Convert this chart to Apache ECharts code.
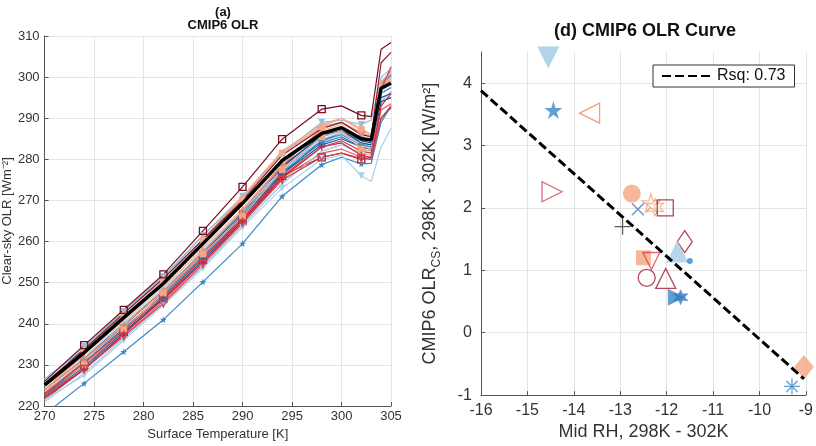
<!DOCTYPE html>
<html>
<head>
<meta charset="utf-8">
<script src="https://cdn.jsdelivr.net/npm/echarts@6/dist/echarts.min.js"></script>
<style>
  html, body {margin: 0; padding: 0; background: #fff;}
  #chart {width: 816px; height: 446px;}
</style>
</head>
<body>
<div id="chart"></div>
<script>
  // panel (a): clear-sky OLR vs surface temperature, one list per model
  const surfaceTemp = [270, 274, 278, 282, 286, 290, 294, 298, 300, 302, 303, 304, 305];
  const markerTemps = [274, 278, 282, 286, 290, 294, 298, 302];
  const multiModelMean = [225.1, 233, 241.5, 249.8, 259.5, 269.3, 279.7, 286.3, 287.7, 285, 284.7, 297.3, 298.5];
  const olrM01 = [226, 234.8, 243.4, 252, 262.6, 273.3, 284.9, 292.2, 293, 290.7, 290.4, 306.8, 308.4];
  const olrM02 = [225.5, 233.8, 242.5, 251, 260.5, 270, 281, 287.5, 289, 286, 285.5, 303.5, 306];
  const olrM03 = [223, 230.5, 238.5, 246.5, 256, 265.5, 276, 283, 284.5, 282, 281.5, 297, 302.5];
  const olrM04 = [222.5, 229, 237, 245, 254.5, 264.5, 275, 280.5, 281.5, 280.2, 280, 290, 293];
  const olrM05 = [222, 228.8, 237.5, 246, 255, 265, 275.5, 283, 284, 281, 280.5, 293, 296];
  const olrM06 = [224, 232.5, 241, 249.5, 260.5, 271, 282, 288.5, 290, 287, 286, 299, 301];
  const olrM07 = [223.5, 230, 238.5, 247.5, 257, 266, 277.5, 285.5, 287, 282.5, 282, 297, 299.5];
  const olrM08 = [225, 233.5, 242, 250.5, 260.5, 270.5, 281.5, 288, 290, 287.5, 286, 298, 300];
  const olrM09 = [224, 231.5, 239.5, 248, 257.5, 267.5, 278.5, 287.5, 289, 286.5, 285.5, 298.5, 301.5];
  const olrM10 = [223.5, 231, 240, 248.5, 258.5, 268, 279, 287, 288.5, 285, 284.5, 297, 300];
  const olrM11 = [226.5, 234.5, 243, 251.5, 261.5, 271, 281.5, 289, 289.5, 288.5, 289.5, 300, 302];
  const olrM12 = [221.5, 227.5, 236, 244.5, 253.5, 263.5, 273, 280, 281, 276, 274.6, 283, 287.5];
  const olrM13 = [226.5, 234, 243, 251, 261.5, 270.5, 281.5, 288, 289, 286, 285.5, 298, 301];
  const olrM14 = [225, 232, 240.5, 249, 258, 267.5, 277.5, 285, 286.5, 283.5, 282.5, 296, 299];
  const olrM15 = [218, 225.5, 233.2, 241, 250.2, 259.5, 271, 278.7, 280.5, 278.9, 279, 289, 293];
  const olrM16 = [223, 231, 239.5, 248, 257.5, 267, 277.5, 284.5, 286, 283.5, 283, 297, 300.5];
  const olrM17 = [222.5, 230.5, 239, 247, 256.5, 266.5, 277, 284, 285.5, 283, 282.5, 296, 297.5];
  const olrM18 = [224, 231.5, 240, 248, 257.5, 267.5, 278.5, 285.5, 287, 284.5, 284, 297.5, 299];
  const olrM19 = [222, 229, 237.5, 246.5, 256, 266, 276.5, 283.5, 285, 283, 282.5, 295, 296];
  const olrM20 = [223.5, 230.5, 238.5, 247.5, 257, 267, 278, 286, 287, 284, 283.5, 294, 295];
  const olrM21 = [222.5, 229.5, 238, 246, 255.5, 265.5, 276.5, 284.5, 286.5, 283.5, 283, 298.5, 300.5];
  const olrM22 = [221, 228, 236.5, 245, 254, 264, 274, 282, 283.5, 281.5, 281, 294, 296.5];
  const olrM23 = [221.5, 229, 237, 245.5, 255, 264.5, 275.5, 281.5, 282.5, 280.5, 280, 292, 293.5];
  const olrM24 = [223, 230, 238, 246, 255.5, 265, 276, 280.5, 281.5, 280, 280.5, 290, 292.5];

  // panel (d): per-model mid RH change and OLR change
  const midRH = [-14.55, -14.44, -13.66, -14.47, -12.75, -12.62, -12.34, -12.25, -12.03, -12.95, -11.61, -11.77,
                 -11.5, -12.5, -12.33, -12.79, -12.43, -12.02, -11.79, -11.7, -10.55, -9.04, -9.3];
  const olrChange = [4.41, 3.57, 3.52, 2.26, 2.23, 1.98, 2.08, 2.01, 2.0, 1.7, 1.46, 1.3,
                     1.15, 1.2, 1.15, 1.0, 0.88, 0.87, 0.57, 0.57, 0.3, -0.55, -0.86];
  const fitRH = [-16, -9.04];
  const fitOLR = [3.88, -0.74];
  const fitLabel = 'Rsq: 0.73';

  const STAR = 'path://M50,0L61,35L98,35L68,57L79,91L50,70L21,91L32,57L2,35L39,35Z';
  const HEX = 'path://M50,0L62,29L93,25L74,50L93,75L62,71L50,100L38,71L7,75L26,50L7,25L38,29Z';
  const PLUS = 'path://M0,50L100,50M50,0L50,100';
  const CROSS = 'path://M0,0L100,100M0,100L100,0';
  const ASTER = 'path://M50,0L50,100M0,50L100,50M15,15L85,85M15,85L85,15';
  const HBAR = 'path://M0,50L100,50';
  const VBAR = 'path://M50,0L50,100';

  const curves = [
    {d: olrM24, c: '#9a2436', s: 'rect', open: true},
    {d: olrM23, c: '#e05a5f'},
    {d: olrM22, c: '#9dc9e5'},
    {d: olrM21, c: '#2f6fb5', s: 'triangle'},
    {d: olrM20, c: '#0d4384'},
    {d: olrM19, c: '#1c5aa0', s: PLUS, line: true},
    {d: olrM18, c: '#1f5fa6'},
    {d: olrM17, c: '#2f7bbf', s: CROSS, line: true},
    {d: olrM16, c: '#4a90c8', s: 'diamond'},
    {d: olrM15, c: '#3a87c8', s: STAR},
    {d: olrM14, c: '#b5d7ec'},
    {d: olrM13, c: '#8ec1e0', s: 'triangle'},
    {d: olrM12, c: '#a9d1ea', s: 'triangle', rot: 180},
    {d: olrM11, c: '#8cc3e3', s: 'triangle', rot: 180},
    {d: olrM10, c: '#fbb99a'},
    {d: olrM09, c: '#f08a6c', s: STAR, open: true},
    {d: olrM08, c: '#f6a88a', s: 'circle'},
    {d: olrM07, c: '#f4a582', s: 'rect'},
    {d: olrM06, c: '#f4a582'},
    {d: olrM05, c: '#c8283a', s: PLUS, line: true},
    {d: olrM04, c: '#d6404e', s: 'triangle', rot: 180, open: true},
    {d: olrM03, c: '#d33f49'},
    {d: olrM02, c: '#8e1b2c'},
    {d: olrM01, c: '#7a0c1e', s: 'rect', open: true}
  ];

  const points = [
    {s: 'triangle', rot: 180, c: '#9ecae1', size: 22},
    {s: STAR, c: '#3a87c8', size: 18},
    {s: 'triangle', rot: 90, c: '#ef8a62', size: 20, open: true},
    {s: 'triangle', rot: -90, c: '#d6404e', size: 20, open: true},
    {s: 'circle', c: '#f4a582', size: 18},
    {s: CROSS, c: '#3a7cc0', size: 12, line: true},
    {s: STAR, c: '#f4a582', size: 18, open: true},
    {s: HEX, c: '#f4a582', size: 17, open: true},
    {s: 'rect', c: '#8e1b2c', size: 16, open: true},
    {s: PLUS, c: '#333', size: 16, line: true},
    {s: 'diamond', c: '#a51c30', size: [15, 22], open: true},
    {s: 'triangle', c: '#a6cde5', size: 22},
    {s: 'circle', c: '#3a87c8', size: 6},
    {s: 'rect', c: '#f4a582', size: 15},
    {s: 'triangle', rot: 180, c: '#d6404e', size: 17, open: true},
    {s: HBAR, c: '#3a87c8', size: 14, line: true},
    {s: 'circle', c: '#a51c30', size: 17, open: true},
    {s: 'triangle', c: '#a51c30', size: 20, open: true},
    {s: 'triangle', rot: -90, c: '#3a87c8', size: 17},
    {s: HEX, c: '#2f7bbf', size: 16},
    {s: VBAR, c: '#3a87c8', size: 14, line: true},
    {s: 'diamond', c: '#f4a582', size: [20, 24]},
    {s: ASTER, c: '#3a87c8', size: 16, line: true}
  ];

  const FONT = "'Liberation Sans', Arial, sans-serif";
  const axisCommon = {
    axisLine: {show: true, onZero: false, lineStyle: {color: '#555', width: 1}},
    axisTick: {show: true, inside: true, length: 4, lineStyle: {color: '#555'}},
    splitLine: {show: true, lineStyle: {color: '#e4e4e4', width: 1}},
    nameLocation: 'middle'
  };

  function markStyle(m) {
    if (m.line) return {color: 'rgba(0,0,0,0)', borderColor: m.c, borderWidth: 1.3};
    if (m.open) return {color: 'rgba(255,255,255,0)', borderColor: m.c, borderWidth: 1.3};
    return {color: m.c, borderColor: m.c, borderWidth: 0};
  }

  const lineSeries = curves.map((m, k) => ({
    type: 'line',
    name: 'model' + k,
    xAxisIndex: 0, yAxisIndex: 0,
    showAllSymbol: true,
    symbol: m.s || 'none',
    symbolRotate: m.rot || 0,
    symbolSize: 7,
    lineStyle: {color: m.c, width: 1.2},
    itemStyle: markStyle(m),
    data: surfaceTemp.map((t, i) => markerTemps.includes(t) && m.s
      ? [t, m.d[i]]
      : {value: [t, m.d[i]], symbol: 'none'}),
    z: 2
  }));

  lineSeries.push({
    type: 'line', name: 'mean', xAxisIndex: 0, yAxisIndex: 0,
    symbol: 'none',
    lineStyle: {color: '#000', width: 3.5},
    data: surfaceTemp.map((t, i) => [t, multiModelMean[i]]),
    z: 5
  });

  const scatterSeries = {
    type: 'scatter', name: 'models', xAxisIndex: 1, yAxisIndex: 1,
    data: midRH.map((x, i) => {
      const m = points[i];
      return {
        value: [x, olrChange[i]],
        symbol: m.s,
        symbolRotate: m.rot || 0,
        symbolSize: m.size,
        itemStyle: markStyle(m)
      };
    }),
    z: 3
  };

  const fitSeries = {
    type: 'line', name: fitLabel, xAxisIndex: 1, yAxisIndex: 1,
    symbol: 'none',
    lineStyle: {color: '#000', width: 3, type: [9, 4]},
    itemStyle: {color: '#000'},
    data: fitRH.map((x, i) => [x, fitOLR[i]]),
    z: 4
  };

  const chart = echarts.init(document.getElementById('chart'));
  chart.setOption({
    animation: false,
    backgroundColor: '#fff',
    textStyle: {fontFamily: FONT},
    graphic: [
      {type: 'text', style: {text: '(a)', x: 223, y: 6, align: 'center', font: "bold 13px 'Liberation Sans', Arial", fill: '#111'}},
      {type: 'text', style: {text: 'CMIP6 OLR', x: 223, y: 19, align: 'center', font: "bold 13px 'Liberation Sans', Arial", fill: '#111'}},
      {type: 'text', style: {text: '(d) CMIP6 OLR Curve', x: 645, y: 22, align: 'center', font: "bold 18px 'Liberation Sans', Arial", fill: '#111'}}
    ],
    legend: {
      data: [fitLabel],
      left: 653, top: 65,
      itemWidth: 50, itemHeight: 10,
      padding: [3, 9, 3, 8],
      borderColor: '#333', borderWidth: 1,
      backgroundColor: '#fff',
      itemStyle: {opacity: 0},
      textStyle: {fontSize: 16, color: '#111', fontFamily: FONT},
      selectedMode: false
    },
    grid: [
      {left: 44, top: 36, width: 347, height: 370},
      {left: 481, top: 52, width: 328, height: 347}
    ],
    xAxis: [
      Object.assign({}, axisCommon, {
        gridIndex: 0, type: 'value', min: 270, max: 305, interval: 5,
        name: 'Surface Temperature [K]', nameGap: 18,
        nameTextStyle: {fontSize: 13, color: '#333'},
        axisLabel: {fontSize: 13, color: '#333', margin: 4}
      }),
      Object.assign({}, axisCommon, {
        gridIndex: 1, type: 'value', min: -16, max: -9, interval: 1,
        name: 'Mid RH, 298K - 302K', nameGap: 24,
        nameTextStyle: {fontSize: 18, color: '#333'},
        axisLabel: {fontSize: 16, color: '#333', margin: 7}
      })
    ],
    yAxis: [
      Object.assign({}, axisCommon, {
        gridIndex: 0, type: 'value', min: 220, max: 310, interval: 10,
        name: 'Clear-sky OLR [Wm⁻²]', nameGap: 28,
        nameTextStyle: {fontSize: 13, color: '#333'},
        axisLabel: {fontSize: 13, color: '#333', margin: 5}
      }),
      Object.assign({}, axisCommon, {
        gridIndex: 1, type: 'value', min: -1, max: 4.5, interval: 1,
        name: '{a|CMIP6 OLR}{s|CS}{a|, 298K - 302K [W/m²]}', nameGap: 38,
        nameTextStyle: {
          color: '#333',
          rich: {
            a: {fontSize: 18, color: '#333', lineHeight: 22, verticalAlign: 'top', fontFamily: FONT},
            s: {fontSize: 12, color: '#333', lineHeight: 22, verticalAlign: 'bottom', fontFamily: FONT}
          }
        },
        splitLine: {show: true, showMaxLine: false, lineStyle: {color: '#e4e4e4', width: 1}},
        axisLabel: {fontSize: 16, color: '#333', margin: 9, showMaxLabel: false}
      })
    ],
    series: lineSeries.concat([scatterSeries, fitSeries])
  });
</script>
</body>
</html>
